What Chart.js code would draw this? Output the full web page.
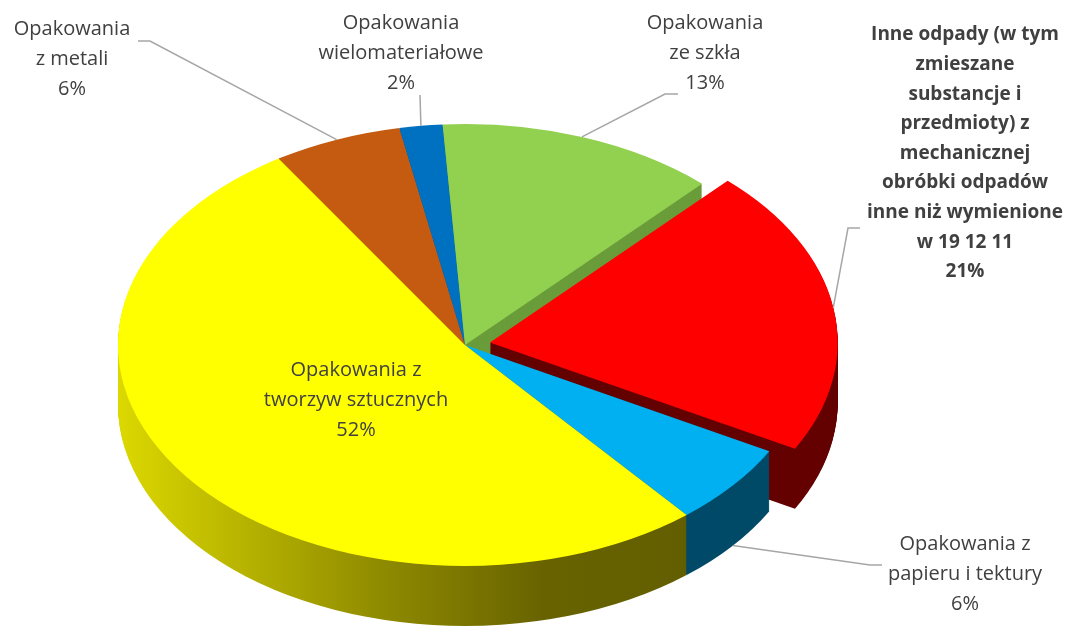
<!DOCTYPE html>
<html>
<head>
<meta charset="utf-8">
<script src="https://cdn.jsdelivr.net/npm/chart.js@4.4.1/dist/chart.umd.min.js"></script>
<style>
	html, body { margin: 0; padding: 0; background: #ffffff; }
	#wrap { width: 1073px; height: 630px; }
</style>
</head>
<body>
<div id="wrap">
	<canvas id="pieChart" width="1073" height="630"></canvas>
</div>
<script>
	// data (clockwise, starting at the metal slice)
	const categories = [
		['Opakowania', 'z metali'],
		['Opakowania', 'wielomateriałowe'],
		['Opakowania', 'ze szkła'],
		['Inne odpady (w tym', 'zmieszane', 'substancje i', 'przedmioty) z', 'mechanicznej', 'obróbki odpadów', 'inne niż wymienione', 'w 19 12 11'],
		['Opakowania z', 'papieru i tektury'],
		['Opakowania z', 'tworzyw sztucznych']
	];
	const shares = [6, 2, 13, 21, 6, 52];
	const explode = [0, 0, 0, 80, 0, 0];

	// colours: top face and side wall of each slice
	const topColors = ['#c55a11', '#0070c0', '#92d050', '#ff0000', '#00b0f0', '#ffff00'];
	const wallColors = ['#8a3f0c', '#004f88', '#6a9c3a', '#640000', '#004a68', null];

	// the flattened "3d" view of the pie
	const view = { cx: 465, cy: 345, rx: 347, ry: 221, depth: 60 };

	// where the labels go: centre x, first line y, connector polyline
	const labelPos = [
		{ x: 72, y: 29, line: [[138, 41], [150, 41]], anchor: 0 },
		{ x: 401, y: 23, line: [[420, 95]], anchor: 0 },
		{ x: 705, y: 23, line: [[678, 94], [665, 94]], anchor: 0 },
		{ x: 965, y: 35, line: [[860, 228], [848, 228]], anchor: 0, bold: true },
		{ x: 965, y: 544, line: [[882, 565], [870, 565]], anchor: 1 },
		{ x: 356, y: 370, line: null }
	];

	function mapper(chart) {
		const el = chart.getDatasetMeta(0).data[0];
		const R = el.outerRadius;
		return { ox: el.x, oy: el.y, kx: view.rx / R, ky: view.ry / R };
	}

	// same shift that ArcElement.draw uses for "offset"
	function sliceShift(el) {
		const off = (el.options.offset || 0) / 4;
		const circ = el.endAngle - el.startAngle;
		const fix = 1 - Math.sin(Math.min(Math.PI, circ));
		const mid = (el.startAngle + el.endAngle) / 2;
		return { dx: Math.cos(mid) * off, dy: Math.sin(mid) * off, dr: off * fix };
	}

	const pie3d = {
		id: 'pie3d',
		beforeDatasetsDraw(chart) {
			const ctx = chart.ctx;
			const meta = chart.getDatasetMeta(0);
			const m = mapper(chart);

			const grad = ctx.createLinearGradient(view.cx - view.rx, 0, view.cx + view.rx * 0.7, 0);
			grad.addColorStop(0, '#dcd800');
			grad.addColorStop(0.45, '#8e8a00');
			grad.addColorStop(0.72, '#686300');
			grad.addColorStop(1, '#625e00');

			ctx.save();
			for (let d = view.depth; d >= 1; d--) {
				meta.data.forEach(function (el, i) {
					const s = sliceShift(el);
					const r = el.outerRadius + s.dr;
					const cx = view.cx + (el.x + s.dx - m.ox) * m.kx;
					const cy = view.cy + (el.y + s.dy - m.oy) * m.ky + d;
					ctx.beginPath();
					ctx.moveTo(cx, cy);
					ctx.ellipse(cx, cy, r * m.kx, r * m.ky, 0, el.startAngle, el.endAngle);
					ctx.closePath();
					ctx.fillStyle = wallColors[i] || grad;
					ctx.fill();
				});
			}
			ctx.restore();

			// top faces are drawn by chart.js under this transform
			ctx.save();
			ctx.translate(view.cx, view.cy);
			ctx.scale(m.kx, m.ky);
			ctx.translate(-m.ox, -m.oy);
		},
		afterDatasetsDraw(chart) {
			chart.ctx.restore();
		},
		afterDraw(chart) {
			const ctx = chart.ctx;
			const meta = chart.getDatasetMeta(0);
			const m = mapper(chart);
			const total = shares.reduce((a, b) => a + b, 0);

			meta.data.forEach(function (el, i) {
				const lp = labelPos[i];
				// connector to the slice edge
				if (lp.line) {
					const s = sliceShift(el);
					const mid = (el.startAngle + el.endAngle) / 2;
					const r = el.outerRadius + s.dr;
					const ex = view.cx + (el.x + s.dx + Math.cos(mid) * r - m.ox) * m.kx;
					const ey = view.cy + (el.y + s.dy + Math.sin(mid) * r - m.oy) * m.ky + lp.anchor * view.depth;
					ctx.save();
					ctx.strokeStyle = '#a6a6a6';
					ctx.lineWidth = 1.5;
					ctx.beginPath();
					ctx.moveTo(lp.line[0][0], lp.line[0][1]);
					for (let k = 1; k < lp.line.length; k++) ctx.lineTo(lp.line[k][0], lp.line[k][1]);
					ctx.lineTo(ex, ey);
					ctx.stroke();
					ctx.restore();
				}

				const lines = categories[i].concat([Math.round(shares[i] / total * 100) + '%']);
				ctx.save();
				ctx.fillStyle = '#404040';
				ctx.font = lp.bold ? 'bold 19px "Open Sans"' : '20px "Open Sans"';
				ctx.textAlign = 'center';
				ctx.textBaseline = 'middle';
				const step = lp.bold ? 29.6 : 30;
				lines.forEach(function (t, k) {
					ctx.fillText(t, lp.x, lp.y + k * step);
				});
				ctx.restore();
			});
		}
	};

	new Chart(document.getElementById('pieChart'), {
		type: 'pie',
		data: {
			labels: categories,
			datasets: [{
				data: shares,
				backgroundColor: topColors,
				borderWidth: 0,
				offset: explode,
				clip: false
			}]
		},
		options: {
			responsive: false,
			animation: false,
			rotation: -32.5,
			plugins: {
				legend: { display: false },
				tooltip: { enabled: false }
			}
		},
		plugins: [pie3d]
	});
</script>
</body>
</html>
